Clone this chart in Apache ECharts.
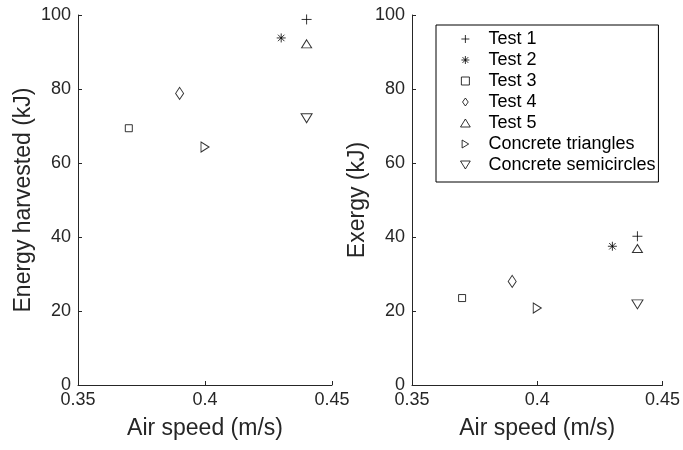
<!DOCTYPE html>
<html>
<head>
<meta charset="utf-8">
<script src="https://cdn.jsdelivr.net/npm/echarts@6/dist/echarts.min.js"></script>
<style>
  html, body { margin: 0; padding: 0; background: #fff; }
  #chart { width: 683px; height: 450px; }
</style>
</head>
<body>
<div id="chart"></div>
<script>
// data
var seriesNames = ['Test 1', 'Test 2', 'Test 3', 'Test 4', 'Test 5', 'Concrete triangles', 'Concrete semicircles'];
var airSpeed = [0.44, 0.43, 0.37, 0.39, 0.44, 0.40, 0.44];
var energyHarvested = [98.8, 93.8, 69.4, 78.8, 92.2, 64.3, 72.1];
var exergy = [40.2, 37.5, 23.5, 28.0, 36.9, 20.8, 21.8];

var symbols = [
  'path://M0,-5L0,5M-5,0L5,0',
  'path://M0,-5L0,5M-5,0L5,0M-3.6,-3.6L3.6,3.6M-3.6,3.6L3.6,-3.6',
  'path://M-5,-5L5,-5L5,5L-5,5Z',
  'path://M0,-7L5,0L0,7L-5,0Z',
  'path://M0,0L5.5,9L-5.5,9Z',
  'path://M0,0L9,5.5L0,11Z',
  'path://M0,0L11,0L5.5,9Z'
];
var sizes = [[10, 10], [9, 9], [7, 7], [8, 12], [10, 8], [8, 10], [11, 9]];

var axisColor = '#262626';
var font = 'Liberation Sans, Arial, sans-serif';

function xAxis(idx) {
  return {
    gridIndex: idx, type: 'value', min: 0.35, max: 0.45, interval: 0.05,
    name: 'Air speed (m/s)', nameLocation: 'middle', nameGap: 32,
    nameTextStyle: { color: axisColor, fontSize: 23, fontFamily: font },
    axisLine: { lineStyle: { color: axisColor, width: 1 } },
    axisTick: { inside: true, length: 4, lineStyle: { color: axisColor } },
    axisLabel: { color: axisColor, fontSize: 18, fontFamily: font, margin: 6,
      formatter: function (v) { return String(+v.toFixed(2)); } },
    splitLine: { show: false }
  };
}
function yAxis(idx, title) {
  return {
    gridIndex: idx, type: 'value', min: 0, max: 100, interval: 20,
    name: title, nameLocation: 'middle', nameGap: 43,
    nameTextStyle: { color: axisColor, fontSize: 23, fontFamily: font },
    axisLine: { show: true, lineStyle: { color: axisColor, width: 1 } },
    axisTick: { show: true, inside: true, length: 4, lineStyle: { color: axisColor } },
    axisLabel: { color: axisColor, fontSize: 18, fontFamily: font, margin: 7 },
    splitLine: { show: false }
  };
}

var markerStyle = { color: 'rgba(0,0,0,0)', borderColor: '#000', borderWidth: 1 };

var series = [];
seriesNames.forEach(function (name, i) {
  [energyHarvested, exergy].forEach(function (vals, g) {
    series.push({
      name: name, type: 'scatter', xAxisIndex: g, yAxisIndex: g,
      symbol: symbols[i], symbolSize: sizes[i],
      itemStyle: markerStyle,
      emphasis: { disabled: true },
      data: [[airSpeed[i], vals[i]]]
    });
  });
});

var legendData = seriesNames.map(function (name, i) {
  return { name: name, icon: symbols[i], itemStyle: markerStyle };
});

var chart = echarts.init(document.getElementById('chart'));
chart.setOption({
  animation: false,
  backgroundColor: '#fff',
  grid: [
    { left: 78, width: 254, top: 15, bottom: 65 },
    { left: 412, width: 252, top: 15, bottom: 65 }
  ],
  xAxis: [xAxis(0), xAxis(1)],
  yAxis: [yAxis(0, 'Energy harvested (kJ)'), yAxis(1, 'Exergy (kJ)')],
  legend: {
    data: legendData, orient: 'vertical', left: 436, top: 25,
    padding: [5, 3, 8, 24],
    borderColor: '#000', borderWidth: 1, backgroundColor: '#fff',
    itemWidth: 36, itemHeight: 8, itemGap: 3,
    itemStyle: markerStyle,
    textStyle: { color: '#000', fontSize: 18, fontFamily: font, lineHeight: 18 },
    selectedMode: false
  },
  series: series
});
</script>
</body>
</html>
